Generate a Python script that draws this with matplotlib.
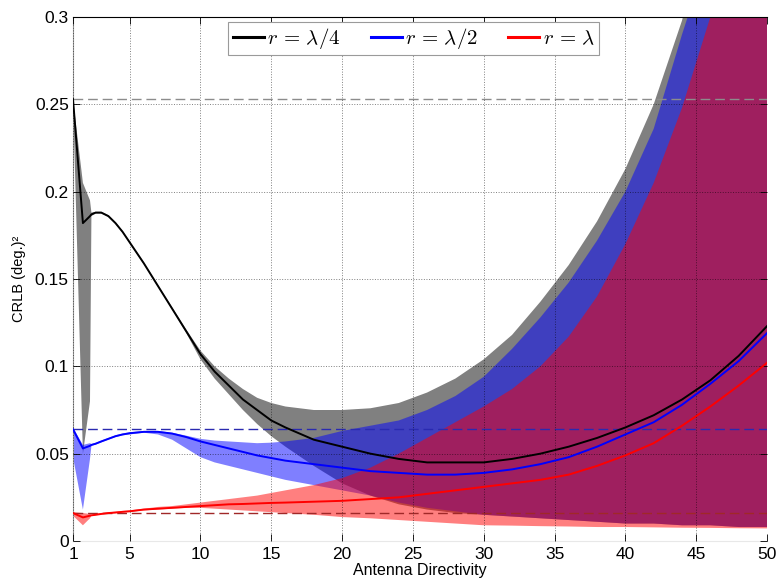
import matplotlib
matplotlib.use("Agg")
import matplotlib.pyplot as plt
from matplotlib.lines import Line2D

plt.rcParams["font.family"] = ["Liberation Sans", "DejaVu Sans"]
plt.rcParams["mathtext.fontset"] = "cm"

# Antenna directivity samples
directivity = [1, 1.7, 2.2, 2.3, 2.6, 3, 3.5, 4, 4.5, 5, 6, 7, 8, 9, 10, 11, 12, 13, 14, 15, 16,
               18, 20, 22, 24, 26, 28, 30, 32, 34, 36, 38, 40, 42, 44, 46, 48, 50]

# r = lambda/4 : CRLB and its spread
quarter_mid = [0.253, 0.182, 0.186, 0.187, 0.188, 0.188, 0.186, 0.182, 0.177, 0.171, 0.159, 0.146,
               0.133, 0.120, 0.107, 0.097, 0.089, 0.081, 0.075, 0.069, 0.065, 0.058, 0.054, 0.050,
               0.047, 0.045, 0.045, 0.045, 0.047, 0.050, 0.054, 0.059, 0.065, 0.072, 0.081, 0.092,
               0.106, 0.123]
quarter_lo = [0.253, 0.050, 0.080, 0.186, 0.1875, 0.1875, 0.1855, 0.1815, 0.1765, 0.1705, 0.1585,
              0.1455, 0.1325, 0.119, 0.104, 0.093, 0.084, 0.075, 0.067, 0.060, 0.054, 0.043, 0.033,
              0.026, 0.021, 0.018, 0.016, 0.015, 0.014, 0.013, 0.012, 0.011, 0.010, 0.010, 0.009,
              0.009, 0.008, 0.008]
quarter_hi = [0.253, 0.205, 0.195, 0.188, 0.1885, 0.1885, 0.1865, 0.1825, 0.1775, 0.1715, 0.1595,
              0.1465, 0.1338, 0.121, 0.109, 0.100, 0.093, 0.087, 0.082, 0.079, 0.077, 0.075, 0.075,
              0.076, 0.079, 0.085, 0.093, 0.104, 0.118, 0.137, 0.158, 0.183, 0.213, 0.250, 0.298,
              0.36, 0.43, 0.52]

# r = lambda/2
half_mid = [0.064, 0.053, 0.0545, 0.055, 0.0557, 0.057, 0.0585, 0.060, 0.061, 0.0617, 0.0625, 0.0625,
            0.0615, 0.0595, 0.057, 0.055, 0.053, 0.051, 0.049, 0.0475, 0.046, 0.044, 0.042, 0.040,
            0.039, 0.038, 0.038, 0.039, 0.041, 0.044, 0.048, 0.054, 0.061, 0.068, 0.078, 0.090,
            0.103, 0.119]
half_lo = [0.048, 0.018, 0.047, 0.0545, 0.0552, 0.0565, 0.058, 0.0595, 0.0605, 0.061, 0.062, 0.061,
           0.058, 0.053, 0.048, 0.045, 0.043, 0.041, 0.039, 0.037, 0.035, 0.032, 0.029, 0.026,
           0.022, 0.019, 0.017, 0.015, 0.014, 0.013, 0.012, 0.011, 0.010, 0.010, 0.009, 0.009,
           0.008, 0.008]
half_hi = [0.065, 0.055, 0.056, 0.0555, 0.0562, 0.0575, 0.059, 0.0605, 0.0615, 0.0622, 0.063, 0.063,
           0.062, 0.0603, 0.0585, 0.0575, 0.057, 0.0565, 0.056, 0.0563, 0.057, 0.059, 0.063, 0.066,
           0.069, 0.075, 0.083, 0.094, 0.110, 0.128, 0.148, 0.172, 0.200, 0.236, 0.290, 0.34,
           0.41, 0.50]

# r = lambda
full_mid = [0.016, 0.0135, 0.0145, 0.0147, 0.015, 0.0155, 0.016, 0.0163, 0.0167, 0.017, 0.018,
            0.0185, 0.019, 0.0195, 0.020, 0.0205, 0.021, 0.0212, 0.0215, 0.0218, 0.022, 0.0225,
            0.023, 0.024, 0.025, 0.027, 0.029, 0.031, 0.033, 0.035, 0.038, 0.043, 0.049, 0.056,
            0.066, 0.077, 0.089, 0.102]
full_lo = [0.0145, 0.009, 0.013, 0.0145, 0.0148, 0.0152, 0.0156, 0.016, 0.0164, 0.0167, 0.0175,
           0.018, 0.0185, 0.019, 0.019, 0.0185, 0.018, 0.0175, 0.017, 0.0165, 0.016, 0.015,
           0.0137, 0.013, 0.012, 0.011, 0.010, 0.009, 0.0088, 0.0085, 0.0083, 0.008, 0.008,
           0.0078, 0.0076, 0.0075, 0.0073, 0.0072]
full_hi = [0.0165, 0.016, 0.0155, 0.015, 0.0155, 0.016, 0.0164, 0.0168, 0.0172, 0.0175, 0.0185,
           0.0195, 0.020, 0.021, 0.022, 0.023, 0.024, 0.025, 0.026, 0.0275, 0.029, 0.032, 0.036,
           0.042, 0.050, 0.059, 0.068, 0.077, 0.087, 0.100, 0.117, 0.140, 0.170, 0.205, 0.248,
           0.30, 0.37, 0.45]

x_ticks = [1, 5, 10, 15, 20, 25, 30, 35, 40, 45, 50]
y_ticks = [0, 0.05, 0.1, 0.15, 0.2, 0.25, 0.3]
y_tick_labels = ["0", "0.05", "0.1", "0.15", "0.2", "0.25", "0.3"]
legend_labels = [r"$r\,=\,\lambda/4$", r"$r\,=\,\lambda/2$", r"$r\,=\,\lambda$"]

fig = plt.figure(figsize=(7.78, 5.81), dpi=100)
ax = fig.add_axes([73 / 778, 1 - 541 / 581, (767 - 73) / 778, (541 - 17) / 581])

ax.fill_between(directivity, quarter_lo, quarter_hi, facecolor=(0.5, 0.5, 0.5),
                edgecolor="none", zorder=1.0)
ax.fill_between(directivity, half_lo, half_hi, facecolor="blue", alpha=0.5,
                edgecolor="none", zorder=1.1)
ax.fill_between(directivity, full_lo, full_hi, facecolor="red", alpha=0.5,
                edgecolor="none", zorder=1.2)

# reference levels at the smallest directivity
ax.axhline(quarter_mid[0], color="#8c8c8c", ls="--", dashes=(7, 3.5), lw=1.0, zorder=2)
ax.axhline(half_mid[0], color="#2a2ab0", ls="--", dashes=(7, 3.5), lw=1.0, zorder=2)
ax.axhline(full_mid[0], color="#a02828", ls="--", dashes=(7, 3.5), lw=1.0, zorder=2)

ax.plot(directivity, quarter_mid, color="black", lw=1.4, zorder=3)
ax.plot(directivity, half_mid, color="blue", lw=1.4, zorder=3)
ax.plot(directivity, full_mid, color="red", lw=1.4, zorder=3)

ax.set_xlim(1, 50)
ax.set_ylim(0, 0.3)
ax.set_xticks(x_ticks)
ax.set_yticks(y_ticks)
ax.set_yticklabels(y_tick_labels)
ax.tick_params(direction="in", top=True, right=True, length=5, width=0.6,
               labelsize=12.5)
ax.tick_params(axis="y", pad=3)
ax.tick_params(axis="x", pad=4)
ax.set_axisbelow(False)
ax.grid(True, ls=":", color="black", lw=0.7, alpha=0.5)

ax.spines["top"].set_color("black")
ax.spines["left"].set_color("#a0a0a0")
ax.spines["bottom"].set_color("#e8e8e8")
ax.spines["right"].set_visible(False)

ax.set_xlabel("Antenna Directivity", fontsize=11.5, labelpad=1)
ax.set_ylabel("CRLB (deg.)²", fontsize=10.5, labelpad=6)

handles = [Line2D([], [], color=c, lw=2.2) for c in ("black", "blue", "red")]
leg = ax.legend(handles, legend_labels, loc="upper center", bbox_to_anchor=(0.491, 0.995),
                ncol=3, fontsize=15, frameon=True, fancybox=False, framealpha=1,
                edgecolor="#9a9a9a", handlelength=1.5, handletextpad=0.15,
                columnspacing=1.45, borderpad=0.2, borderaxespad=0.1)
leg.get_frame().set_linewidth(0.8)
leg.set_zorder(5)

fig.savefig("out.png", dpi=100)
